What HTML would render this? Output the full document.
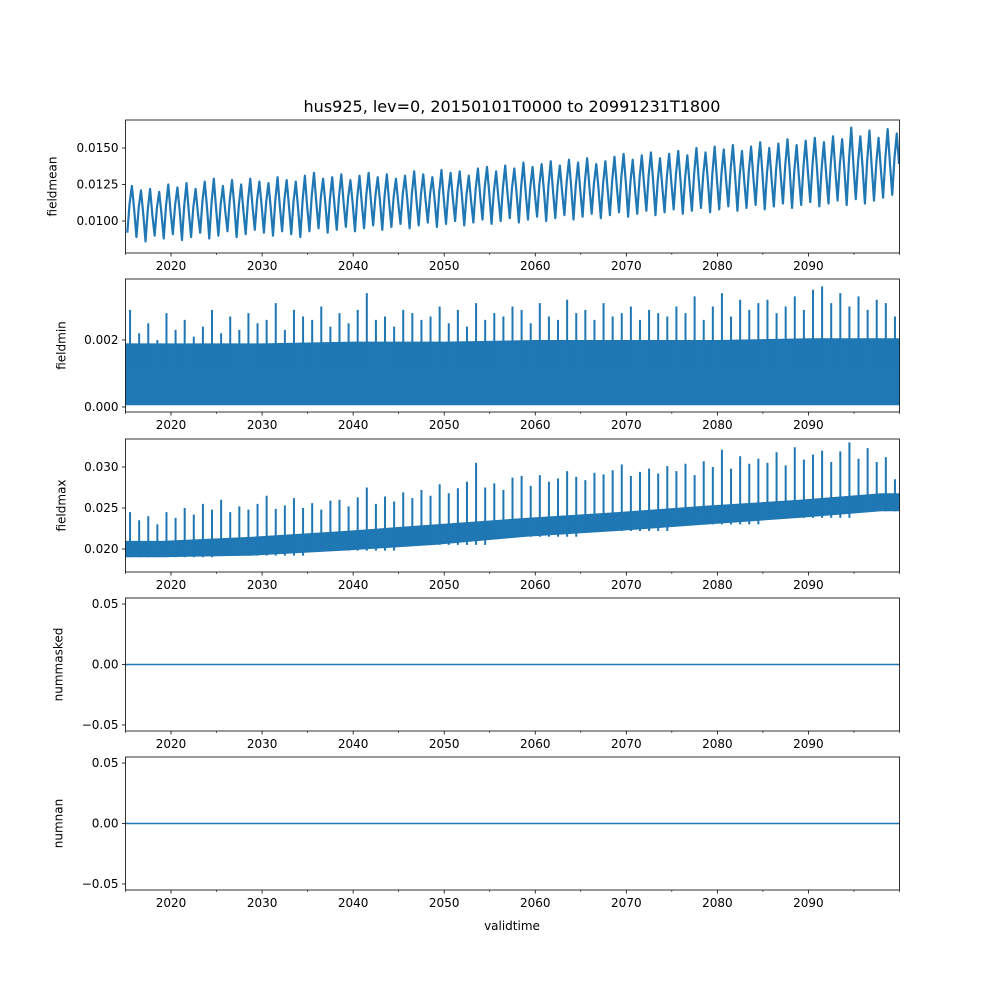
<!DOCTYPE html>
<html><head><meta charset="utf-8"><style>
body{margin:0;background:#fff}
svg text{font-family:"DejaVu Sans","Liberation Sans",sans-serif;font-size:12px;fill:#000}
</style></head><body>
<svg id="fig" width="1000" height="1000" xmlns="http://www.w3.org/2000/svg">
<rect width="1000" height="1000" fill="#fff"/>
<text x="512" y="112" text-anchor="middle" style="font-size:16px">hus925, lev=0, 20150101T0000 to 20991231T1800</text>
</svg>
<script>
const years=[];for(let y=2015;y<2100;y++)years.push(y);
const xTicks=[2020,2030,2040,2050,2060,2070,2080,2090];
const meanHi=[.0124,.0121,.0122,.0120,.0125,.0123,.0126,.0122,.0127,.0129,.0124,.0128,.0125,.0129,.0127,.0126,.0130,.0128,.0127,.0131,.0133,.0129,.0130,.0132,.0128,.0131,.0133,.0130,.0132,.0129,.0131,.0134,.0132,.0130,.0135,.0133,.0134,.0131,.0136,.0137,.0134,.0138,.0136,.0140,.0137,.0139,.0141,.0138,.0142,.0140,.0143,.0139,.0141,.0144,.0146,.0142,.0145,.0147,.0143,.0146,.0148,.0145,.0150,.0147,.0151,.0149,.0152,.0148,.0151,.0154,.0150,.0153,.0156,.0152,.0155,.0157,.0154,.0158,.0156,.0164,.0158,.0162,.0157,.0163,.0160];
const meanLo=[.0092,.0089,.0086,.0090,.0088,.0091,.0087,.0089,.0092,.0088,.0090,.0093,.0089,.0091,.0094,.0092,.0090,.0093,.0091,.0089,.0093,.0095,.0092,.0094,.0096,.0093,.0095,.0097,.0094,.0096,.0098,.0095,.0097,.0099,.0096,.0098,.0100,.0097,.0099,.0101,.0098,.0100,.0102,.0099,.0101,.0103,.0100,.0102,.0104,.0101,.0103,.0105,.0102,.0104,.0106,.0103,.0105,.0107,.0104,.0106,.0108,.0105,.0107,.0109,.0106,.0108,.0110,.0107,.0109,.0111,.0108,.0110,.0112,.0109,.0111,.0113,.0110,.0112,.0114,.0111,.0115,.0112,.0114,.0116,.0118];
const minSpike=[2.9,2.2,2.5,2.0,2.8,2.3,2.6,2.1,2.4,2.9,2.2,2.7,2.3,2.8,2.5,2.6,3.1,2.3,2.9,2.7,2.6,3.0,2.4,2.8,2.5,2.9,3.4,2.6,2.7,2.4,2.9,2.8,2.6,2.7,3.0,2.5,2.9,2.4,3.1,2.6,2.8,2.7,3.0,2.9,2.5,3.1,2.7,2.6,3.2,2.8,2.9,2.6,3.1,2.7,2.8,3.0,2.6,2.9,2.8,2.7,3.0,2.8,3.3,2.6,3.0,3.4,2.7,3.2,2.9,3.1,3.2,2.8,3.0,3.3,2.9,3.5,3.6,3.1,3.4,3.0,3.3,2.9,3.2,3.1,2.7];
const minBandTop=[1.9,1.9,1.95,1.95,2.0,2.0,2.0,2.05,2.05];
const maxSpike=[24.5,23.5,24.0,23.0,24.5,23.8,25.0,24.2,25.5,24.8,26.0,24.5,25.2,24.8,25.5,26.5,24.9,25.3,26.2,25.0,25.6,24.8,25.9,26.0,25.2,26.3,27.5,25.5,26.4,25.8,26.9,26.2,27.2,26.5,27.9,26.8,27.4,28.2,30.5,27.5,28.0,27.2,28.7,28.9,27.7,29.0,28.2,28.6,29.5,28.8,28.4,29.3,29.1,29.6,30.3,28.9,29.4,29.8,29.2,30.1,29.5,30.4,29.0,30.7,30.0,32.1,29.8,31.3,30.4,31.0,30.5,31.8,30.2,32.4,30.9,31.5,32.0,30.6,31.9,33.0,31.0,32.3,30.6,31.2,28.5];
const maxBaseLo=[19.0,19.2,19.8,20.5,21.5,22.2,23.0,23.8,24.6];
const maxBaseHi=[21.0,21.5,22.2,23.0,23.8,24.5,25.3,26.0,26.8];
const decades=[2019,2029,2039,2049,2059,2069,2079,2089,2098];

const svg=document.getElementById('fig');const NS='http://www.w3.org/2000/svg';
const C='#1f77b4';const L=125.5,R=899.5;
const xs=y=>L+(y-2015)/(2100-2015)*(R-L);
function mk(t,a,p){const e=document.createElementNS(NS,t);for(const k in a)e.setAttribute(k,a[k]);(p||svg).appendChild(e);return e;}
function panel(name,top,bot,ymin,ymax,ticks,fmt,label,lo,draw){
  const g=mk('g',{});
  
  
  const ys=v=>bot-(v-ymin)/(ymax-ymin)*(bot-top);
  const cp=mk('clipPath',{id:'c'+name},g);mk('rect',{x:L,y:top,width:R-L,height:bot-top},cp);
  const d=mk('g',{'clip-path':'url(#c'+name+')'},g);
  
  
  draw(d,ys);
  mk('rect',{x:L,y:top,width:R-L,height:bot-top,fill:'none',stroke:'#000','stroke-width':0.8},g);
  ticks.forEach(v=>{const y=ys(v);mk('line',{x1:L,x2:L-3.5,y1:y,y2:y,stroke:'#000','stroke-width':0.8},g);
    const t=mk('text',{x:L-7,y:y+4,'text-anchor':'end'},g);t.textContent=fmt(v);
    });
  xTicks.forEach(v=>{const x=xs(v);mk('line',{x1:x,x2:x,y1:bot,y2:bot+3.5,stroke:'#000','stroke-width':0.8},g);
    const t=mk('text',{x:x,y:bot+17,'text-anchor':'middle'},g);t.textContent=v;
    });
  for(let v=2015;v<=2100;v+=5){if(v%10===0&&v!==2100)continue;const x=xs(v);mk('line',{x1:x,x2:x,y1:bot,y2:bot+2,stroke:'#000','stroke-width':0.6},g);}
  const yl=mk('text',{x:0,y:0,'text-anchor':'middle',transform:`translate(${L-lo},${(top+bot)/2}) rotate(-90)`},g);yl.textContent=label;
  
}
panel('fieldmean',120,253,0.00781,0.01692,[0.0100,0.0125,0.0150],v=>v.toFixed(4),'fieldmean',69,(d,ys)=>{
  let p='';years.forEach((y,i)=>{p+=(i?'L':'M')+xs(y+0.2)+' '+ys(meanLo[i])+'L'+xs(y+0.45)+' '+ys((meanLo[i]+meanHi[i])/2+0.0004)+'L'+xs(y+0.7)+' '+ys(meanHi[i])+'L'+xs(y+0.95)+' '+ys((meanLo[i]+meanHi[i])/2);});
  mk('path',{d:p,fill:'none',stroke:C,'stroke-width':2.2,'stroke-linejoin':'round'},d);
});
panel('fieldmin',279,412,-0.00015,0.00382,[0,0.002],v=>v.toFixed(3),'fieldmin',60,(d,ys)=>{
  let p='M'+xs(2015)+' '+ys(0.00005);
  minBandTop.forEach((v,i)=>{p+='L'+xs(2015+i*10+(i?5:0))+' '+ys(v/1000);});
  p+='L'+xs(2100)+' '+ys(minBandTop[minBandTop.length-1]/1000)+'L'+xs(2100)+' '+ys(0.00005)+'Z';
  mk('path',{d:p,fill:C},d);
  let s='';years.forEach((y,i)=>{s+='M'+xs(y+0.5)+' '+ys(0.001)+'L'+xs(y+0.5)+' '+ys(minSpike[i]/1000);});
  mk('path',{d:s,stroke:C,'stroke-width':2},d);
});
panel('fieldmax',439,572,0.0172,0.03341,[0.020,0.025,0.030],v=>v.toFixed(3),'fieldmax',60,(d,ys)=>{
  let p='M'+xs(2015)+' '+ys(maxBaseHi[0]/1000);
  decades.forEach((y,i)=>{p+='L'+xs(y)+' '+ys(maxBaseHi[i]/1000);});
  p+='L'+xs(2100)+' '+ys(maxBaseHi[8]/1000)+'L'+xs(2100)+' '+ys(maxBaseLo[8]/1000);
  for(let i=decades.length-1;i>=0;i--)p+='L'+xs(decades[i])+' '+ys(maxBaseLo[i]/1000);
  p+='L'+xs(2015)+' '+ys(maxBaseLo[0]/1000)+'Z';
  mk('path',{d:p,fill:C},d);
  let s='';years.forEach((y,i)=>{const di=Math.min(8,Math.floor((y-2015)/10));s+='M'+xs(y+0.5)+' '+ys(maxBaseLo[di]/1000)+'L'+xs(y+0.5)+' '+ys(maxSpike[i]/1000);});
  mk('path',{d:s,stroke:C,'stroke-width':2},d);
});
['nummasked','numnan'].forEach((n,k)=>{const top=598+k*159,bot=731+k*159;
  panel(n,top,bot,-0.055,0.055,[-0.05,0,0.05],v=>v.toFixed(2).replace('-','−'),n,63,(d,ys)=>{
    mk('line',{x1:L,x2:R,y1:ys(0),y2:ys(0),stroke:C,'stroke-width':1.5},d);});});
const xl=mk('text',{x:512,y:930,'text-anchor':'middle'});xl.textContent='validtime';


</script>
</body></html>
